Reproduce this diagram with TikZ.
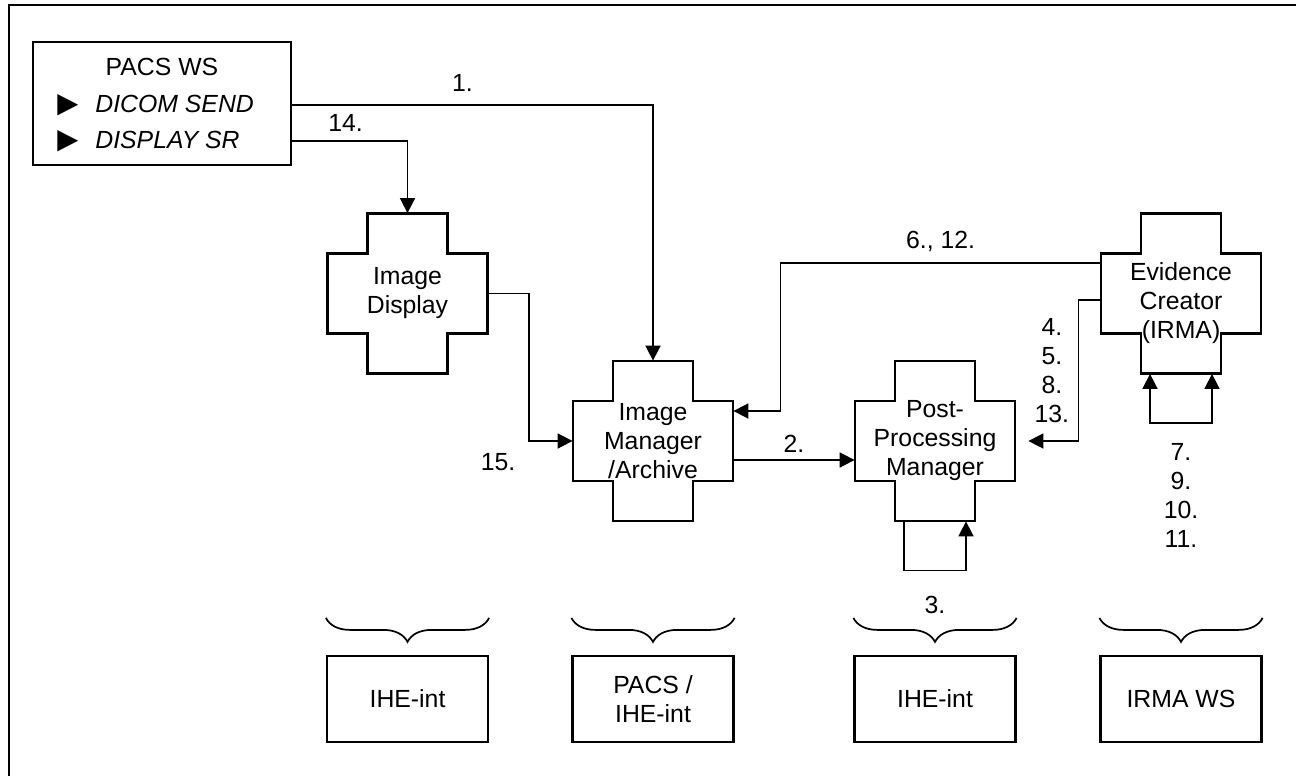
\documentclass[tikz,border=0pt]{standalone}
\usepackage{fontspec}
\setmainfont{Liberation Sans}
\newfontfamily\symbolfont{DejaVu Sans}
\usepackage{graphicx}
\usetikzlibrary{positioning, arrows.meta, decorations.pathreplacing}

% plus-shaped outline round an actor node
\newcommand{\drawcross}[1]{%
  \draw[crossline] ([shift={(-20pt,40pt)}]#1.center) -- ++(40pt,0pt) -- ++(0pt,-20pt)
    -- ++(20pt,0pt) -- ++(0pt,-40pt) -- ++(-20pt,0pt) -- ++(0pt,-20pt)
    -- ++(-40pt,0pt) -- ++(0pt,20pt) -- ++(-20pt,0pt) -- ++(0pt,40pt)
    -- ++(20pt,0pt) -- cycle;}
\newcommand{\itemtri}{\resizebox{10.5pt}{9pt}{\symbolfont ▶}}

\begin{document}
\begin{tikzpicture}[
    x=0.5pt, y=-0.5pt,
    every node/.style={font=\fontsize{12.4}{14.5}\selectfont},
    actor/.style={minimum width=80pt, minimum height=80pt, inner sep=0pt, align=center},
    crossline/.style={line width=1.1pt},
    groupbox/.style={draw, line width=1.1pt, minimum width=80.5pt, minimum height=43pt, align=center},
    groupbrace/.style={decorate, decoration={brace, amplitude=12pt, mirror}, line width=0.85pt},
    flow/.style={-{Triangle[length=7.5pt, width=7.5pt]}, line width=0.85pt},
    loopflow/.style={{Triangle[length=7.5pt, width=7.5pt]}-{Triangle[length=7.5pt, width=7.5pt]}, line width=0.85pt}
]
\useasboundingbox (0,0) rectangle (1296,776);
\draw[line width=1.1pt] (9,5) rectangle (1310,790);

% workstation
\node[draw, line width=1.1pt, minimum width=129pt, minimum height=61.5pt] (pacs) at (162,103.5) {};
\node (pacstitle) at (162,67) {PACS WS};
\node[anchor=west, inner sep=0pt] (dicomsend) at (57,105) {\itemtri\hspace{8.5pt}\textit{DICOM SEND}};
\node[anchor=west, inner sep=0pt] (displaysr) at (57,141) {\itemtri\hspace{8.5pt}\textit{DISPLAY SR}};

% actors
\node[actor] (imgdisp) at (407.5,293.5) {Image\\Display};
\node[actor] (imgmgr) at (653,441) {Image\\Manager\\/Archive};
\node[actor] (ppm) at (935,441) {Post-\\Processing\\Manager};
\node[actor, label={[align=center, yshift=-4.75pt]center:Evidence\\Creator\\(IRMA)}] (evid) at (1181,293.5) {};
\drawcross{imgdisp}
\drawcross{imgmgr}
\drawcross{ppm}
\drawcross{evid}

% transactions
\draw[flow] (pacs.east |- dicomsend) -| node[pos=0.236, above=3.2pt] {1.} (imgmgr.north);
\draw[flow] (pacs.east |- displaysr) -| node[pos=0.232, above=1pt] {14.} (imgdisp.north);
\draw[flow] (imgdisp.east) -- ++(41,0) |- node[pos=0.5, below left=2.7pt and 3pt] {15.} (imgmgr.west);
\draw[flow] ([yshift=-9.5pt]imgmgr.east) -- node[above] {2.} ([yshift=-9.5pt]ppm.west);
\draw[flow] ([xshift=-15.5pt]ppm.south) -- ++(0,49) -| node[pos=0.25, below=9pt] {3.} ([xshift=15.5pt]ppm.south);
\draw[flow] ([yshift=-3.25pt]evid.west) -- ++(-22,0) |- node[pos=0.25, left=1pt, align=center] {4.\\5.\\8.\\13.} ([xshift=6.5pt]ppm.east);
\draw[flow] ([yshift=15.25pt]evid.west) -- node[above=2pt] {6., 12.} ++(-320,0) |- ([yshift=15pt]imgmgr.east);
\draw[loopflow] ([xshift=-15.5pt]evid.south) -- ++(0,49) -| node[pos=0.25, below=6.6pt, align=center] {7.\\9.\\10.\\11.} ([xshift=15.5pt]evid.south);

% implementations
\node[groupbox] (grp1) at (407.5,699) {IHE-int};
\node[groupbox] (grp2) at (653,699) {PACS /\\IHE-int};
\node[groupbox] (grp3) at (935,699) {IHE-int};
\node[groupbox] (grp4) at (1181,699) {IRMA WS};
\foreach \g in {grp1, grp2, grp3, grp4}
    \draw[groupbrace] ([yshift=18.5pt]\g.north west) -- ([yshift=18.5pt]\g.north east);

\end{tikzpicture}
\end{document}
